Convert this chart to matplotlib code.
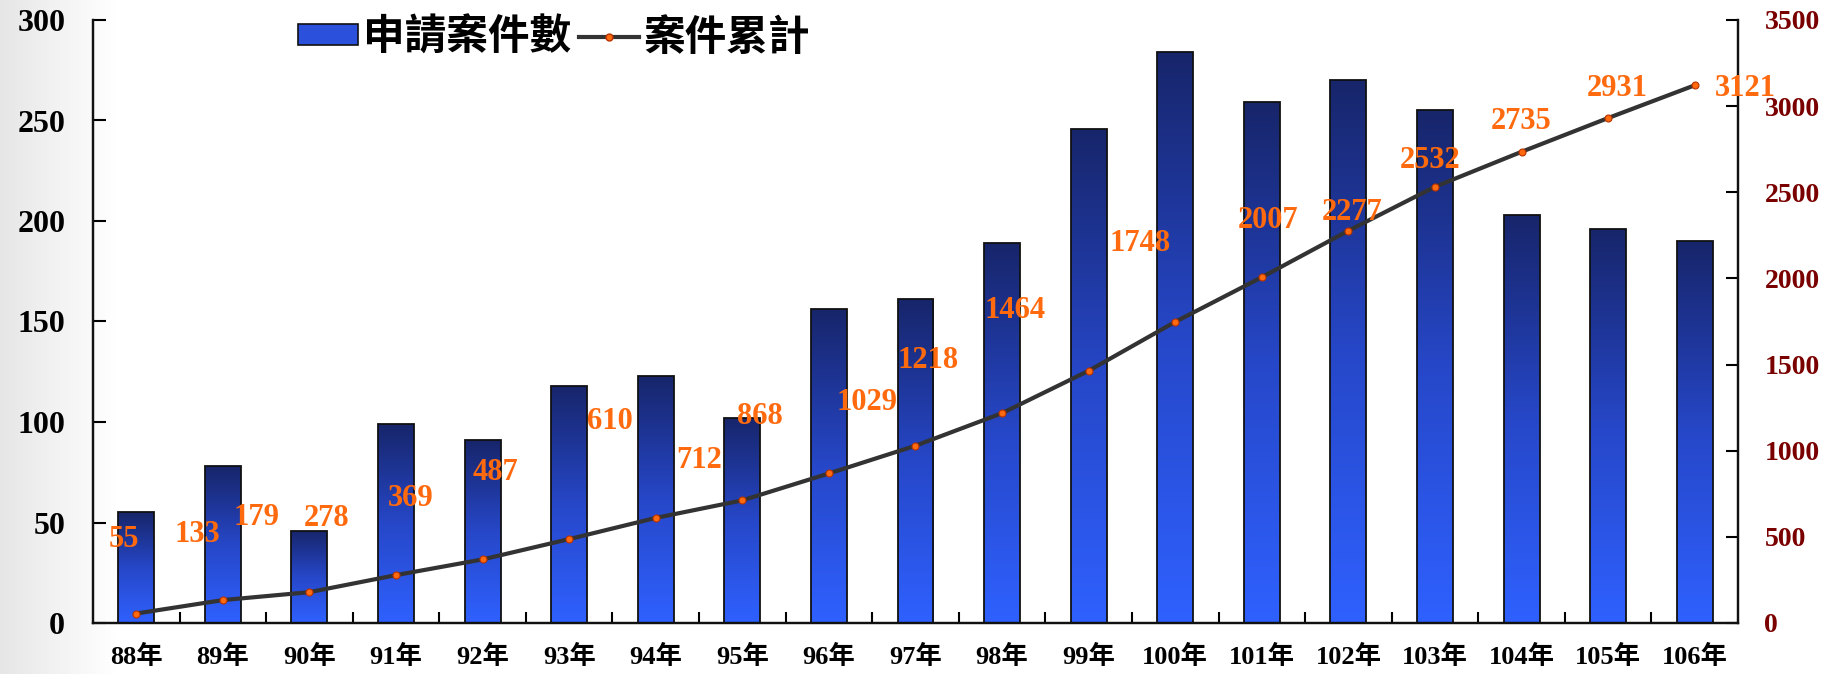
import numpy as np
import matplotlib.pyplot as plt
from matplotlib.colors import LinearSegmentedColormap
from matplotlib.patches import Patch
from matplotlib.lines import Line2D
from matplotlib.font_manager import FontProperties

years = ["88年", "89年", "90年", "91年", "92年", "93年", "94年", "95年", "96年", "97年",
         "98年", "99年", "100年", "101年", "102年", "103年", "104年", "105年", "106年"]
applications = [55, 78, 46, 99, 91, 118, 123, 102, 156, 161,
                189, 246, 284, 259, 270, 255, 203, 196, 190]
cumulative = [55, 133, 179, 278, 369, 487, 610, 712, 868, 1029,
              1218, 1464, 1748, 2007, 2277, 2532, 2735, 2931, 3121]

# where each cumulative label sits relative to its point (x in categories, y in cases)
label_dx = [-0.14, -0.30, -0.61, -0.80, -0.83, -0.85, -0.53, -0.50, -0.80, -0.56,
            -0.86, -0.85, -0.41, 0.07, 0.04, -0.06, 0.0, 0.10, 0.59]
label_dy = [427, 378, 436, 326, 351, 384, 557, 234, 328, 248,
            308, 347, 457, 332, 103, 155, 173, 174, -16]

SERIF = ["Liberation Serif", "Noto Sans CJK TC"]
plt.rcParams["font.family"] = SERIF
plt.rcParams["font.weight"] = "bold"

bar_cmap = LinearSegmentedColormap.from_list("bars", ["#2f61ff", "#2647c8", "#17256a"])
ORANGE = "#ff6a0e"

fig = plt.figure(figsize=(18.33, 6.74), dpi=100)

# soft grey fade along the left edge
bg = fig.add_axes([0, 0, 1, 1], zorder=-10)
fade = np.ones((2, 400))
fade[:, :26] = np.linspace(0.9, 1.0, 26)
bg.imshow(fade, cmap="gray", vmin=0, vmax=1, aspect="auto", extent=(0, 1, 0, 1))
bg.axis("off")

ax = fig.add_axes([93 / 1833, 51 / 674, 1645 / 1833, 603 / 674])
ax.set_facecolor("none")
x = np.arange(len(years))
width = 0.415

bars = ax.bar(x, applications, width=width, facecolor="none", edgecolor="#111111",
              linewidth=1.3, zorder=3)
grad = np.linspace(0, 1, 256).reshape(-1, 1)
for b in bars:
    x0, h = b.get_x(), b.get_height()
    im = ax.imshow(grad, cmap=bar_cmap, origin="lower", aspect="auto",
                   extent=(x0, x0 + b.get_width(), 0, h), zorder=2)
    im.set_clip_path(b)

ax.set_xlim(-0.5, len(years) - 0.5)
ax.set_ylim(0, 300)
ax.set_yticks(range(0, 301, 50))
ax.set_xticks(x)
ax.set_xticklabels(years)
ax.set_xticks(np.arange(0.5, len(years) - 1, 1), minor=True)
ax.tick_params(axis="x", which="major", length=0, pad=16, labelsize=19)
ax.tick_params(axis="x", which="minor", direction="in", length=8, width=1.5)
ax.tick_params(axis="y", direction="in", length=9, width=1.5, pad=20, labelsize=23)

ax2 = ax.twinx()
ax2.plot(x, cumulative, color="#333333", linewidth=3, marker="o", markersize=5,
         markerfacecolor=ORANGE, markeredgecolor="#b83200", markeredgewidth=0.8, zorder=4)
for i, c in enumerate(cumulative):
    ax2.text(i + label_dx[i], c + label_dy[i], str(c), ha="center", va="center",
             color=ORANGE, fontsize=22, fontweight="bold", zorder=5)
ax2.set_ylim(0, 3500)
ax2.set_yticks(range(0, 3501, 500))
ax2.tick_params(axis="y", direction="in", length=9, width=1.5, pad=19, labelsize=20,
                labelcolor="#7a0000")

for a in (ax, ax2):
    a.spines["top"].set_visible(False)
    for s in ("left", "right", "bottom"):
        a.spines[s].set_linewidth(1.6)
        a.spines[s].set_color("#111111")

handles = [
    Patch(facecolor="#2a50dc", edgecolor="#111111", linewidth=1.2),
    Line2D([], [], color="#333333", linewidth=3, marker="o", markersize=5,
           markerfacecolor=ORANGE, markeredgecolor="#b83200"),
]
fig.legend(handles, ["申請案件數", "案件累計"], ncol=2, frameon=False,
           loc="upper left", bbox_to_anchor=(298 / 1833, 0.975),
           bbox_transform=fig.transFigure,
           prop=FontProperties(family=["Noto Sans CJK TC"], weight="bold", size=30),
           handlelength=1.45, handleheight=0.4, handletextpad=0.1,
           columnspacing=0.2, borderpad=0, borderaxespad=0)

fig.savefig("out.png", dpi=100)
